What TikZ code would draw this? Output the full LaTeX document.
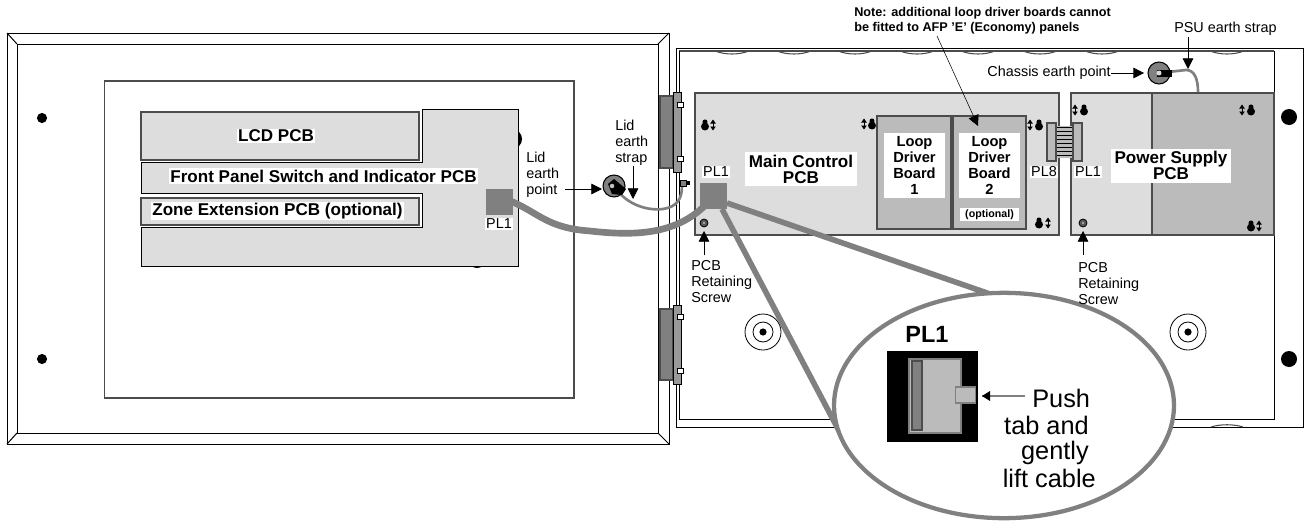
\documentclass[tikz,border=0pt]{standalone}
\usepackage{fontspec}
\setmainfont{Liberation Sans}
\usetikzlibrary{arrows.meta,shapes.geometric}
\definecolor{pcbgrey}{HTML}{DDDDDD}
\definecolor{boardgrey}{HTML}{BBBBBB}
\definecolor{cablegrey}{HTML}{808080}
\tikzset{
    frameline/.style={line width=0.75pt,black},
    pcbline/.style={line width=0.8pt,black!70},
    plain/.style={inner sep=0pt,align=left,font=\fontsize{10.8}{12}\selectfont},
    pcbtext/.style={inner sep=1pt,fill=white,align=center,font=\fontsize{12.8}{12}\selectfont\bfseries},
    plugtext/.style={inner sep=1pt,fill=white,font=\fontsize{10.8}{12}\selectfont},
    plug/.style={fill=cablegrey,inner sep=0pt,minimum width=20.25pt,minimum height=19.5pt},
    callout/.style={line width=0.6pt,-{Triangle[length=8pt,width=8pt]}},
    cable/.style={cablegrey,line width=5pt},
    strap/.style={cablegrey,line width=2pt},
    earthpoint/.style={circle,draw=black,line width=0.8pt,fill=cablegrey,minimum size=16.5pt,inner sep=0pt},
    lens/.style={ellipse,draw=cablegrey,line width=3.2pt,fill=white,minimum width=255pt,minimum height=169pt}
}
\begin{document}
\begin{tikzpicture}[x=0.75pt,y=-0.75pt]
    \useasboundingbox (0,0) rectangle (1305,521);

    % Lid
    \draw[frameline] (7,33) rectangle (669,444);
    \draw[frameline] (17,44) rectangle (658,433);
    \draw[frameline] (7,33) -- (17,44) (669,33) -- (658,44) (7,444) -- (17,433) (669,444) -- (658,433);
    \draw[pcbline] (104.5,81) rectangle (574,398);
    \foreach \hy in {118,359} {
        \fill (42,\hy) circle (3.8pt);
    }
    \fill (512,139) circle (7.5pt);
    \fill (477,258) circle (7.5pt);

    % Lid boards
    \draw[frameline,fill=pcbgrey] (422,109) -- (518,109) -- (518,266) -- (141,266) -- (141,227) -- (422,227)
        -- (422,193) -- (141,193) -- (141,162) -- (422,162) -- cycle;
    \draw[pcbline,fill=pcbgrey] (141,112) rectangle (419,160);
    \draw[pcbline,fill=pcbgrey] (141,198) rectangle (419,225);
    \node[pcbtext] (lcdtext) at (276,136) {LCD PCB};
    \node[pcbtext] (fronttext) at (323.5,176) {Front Panel Switch and Indicator PCB};
    \node[pcbtext] (zonetext) at (277.5,211) {Zone Extension PCB (optional)};
    \node[plug] (plleft) at (499,202) {};
    \node[plugtext] (plleftlabel) at (499,224) {PL1};

    % Chassis
    \draw[frameline] (676.5,48) -- (1303,48) -- (1303,427) -- (676.5,427) -- cycle;
    \draw[pcbline] (679,51) -- (1274,51);
    \draw[frameline] (679,51) -- (679,419) -- (1274,419) -- (1274,51);
    \foreach \sx in {715,777,838,900,961,1023,1085,1210} {
        \draw[pcbline] (\sx,51) .. controls (\sx+10,55) and (\sx+24,55) .. (\sx+34,51);
    }
    \draw[pcbline] (1211,427) .. controls (1220,424) and (1234,424) .. (1243,427);
    \foreach \hx in {763,1188} {
        \draw[line width=0.6pt] (\hx,332) circle (13.5pt);
        \draw[line width=0.6pt] (\hx,332) circle (7.5pt);
        \fill (\hx,332) circle (2.7pt);
    }
    \foreach \hy in {117,359} {
        \fill (1289,\hy) circle (6pt);
    }

    % Hinges
    \foreach \ty/\by/\ta/\tb in {96/168/105/159,309/380/317/371} {
        \draw[pcbline,fill=cablegrey] (660,\ty) rectangle (673,\by);
        \draw[frameline,fill=cablegrey!80] (673,\ty-4) rectangle (681.5,\by+4);
        \draw[line width=0.5pt,fill=white] (677,\ta-2.5) rectangle (683,\ta+2.5);
        \draw[line width=0.5pt,fill=white] (677,\tb-2.5) rectangle (683,\tb+2.5);
    }

    % Main control and power boards
    \draw[pcbline,fill=pcbgrey] (695,93) rectangle (1059,235);
    \draw[pcbline,fill=boardgrey] (877,116) rectangle (951,229);
    \draw[pcbline,fill=boardgrey] (953,116) rectangle (1026,229);
    \draw[pcbline,fill=pcbgrey] (1071,93) rectangle (1274,235);
    \draw[pcbline,fill=boardgrey] (1152,93) rectangle (1274,235);

    % Keyholes
    \foreach \kx/\ky/\ax in {705/125/713,872/124/864,1039/125/1030,1039/223/1048,1084/110/1075,1251/110/1242,1251/226/1259} {
        \fill (\kx,\ky+1.5) circle (3pt);
        \fill (\kx,\ky-3) circle (1.9pt);
        \draw[line width=0.6pt,{Triangle[length=3pt,width=4pt]}-{Triangle[length=3pt,width=4pt]}] (\ax,\ky-5.5) -- (\ax,\ky+5.5);
    }
    \foreach \sx in {704,1083} {
        \draw[line width=0.6pt,fill=black!65] (\sx,223) circle (3pt);
        \fill[black!25] (\sx,223) circle (0.9pt);
    }

    \node[pcbtext,minimum width=84pt,minimum height=25.5pt] (maintext) at (801,169) {Main Control\\PCB};
    \node[pcbtext,minimum width=46pt,minimum height=49pt,font=\fontsize{11}{12}\selectfont\bfseries] (loopone) at (914.5,165.5) {Loop\\Driver\\Board\\1};
    \node[pcbtext,minimum width=46pt,minimum height=49pt,font=\fontsize{11}{12}\selectfont\bfseries] (looptwo) at (989.5,165.5) {Loop\\Driver\\Board\\2};
    \node[pcbtext,minimum width=44pt,minimum height=9.5pt,font=\fontsize{8}{9}\selectfont\bfseries] (optional) at (989.5,214.5) {(optional)};
    \node[pcbtext,minimum width=90pt,minimum height=25.5pt] (powertext) at (1171,165.5) {Power Supply\\PCB};

    % Ribbon between PL8 and PL1
    \fill[boardgrey] (1056,126) rectangle (1073,158);
    \foreach \ry in {127,131,...,155} {
        \draw[line width=0.75pt] (1056,\ry) -- (1073,\ry);
    }
    \draw[pcbline,fill=boardgrey] (1047,123) rectangle (1056,161);
    \draw[pcbline,fill=boardgrey] (1073,123) rectangle (1082,161);
    \node[plugtext] (pleight) at (1044,172) {PL8};
    \node[plugtext] (plpower) at (1088,172) {PL1};

    % Earth points and straps
    \node[earthpoint] (lidearth) at (614,186) {};
    \node[earthpoint] (chassisearth) at (1159,73) {};
    \coordinate (studend) at (682,186);
    \coordinate (psuend) at (1198,92);
    \draw[strap] (lidearth.center) .. controls (626,205) and (648,211) .. (663,209) .. controls (676,207) and (682,200) .. (studend);
    \draw[strap] (chassisearth.center) -- (1186,70) .. controls (1194,70) and (1198,78) .. (psuend);
    \fill (608,184) -- (614,179) -- (626,189) -- (622,195) -- (612,194) -- cycle;
    \fill[black!25] (612,186) circle (1.7pt);
    \fill (1157,69.5) rectangle (1172,76.5);
    \fill[black!15] (1159,73) circle (1.9pt);
    \draw[line width=0.5pt,fill=cablegrey] (680,180) rectangle (686,186);
    \fill (686,181) rectangle (690,185);

    % Cable and zoom beams
    \node[plug] (plmain) at (713.5,196) {};
    \coordinate (beamtop) at (727,203);
    \coordinate (beamtopend) at (990,294);
    \coordinate (beamleft) at (722,209);
    \coordinate (beamleftend) at (847,446);
    \draw[cable] (plleft.center) -- (plleft.east) .. controls (540,214) and (548,228) .. (590,231) .. controls (635,236) and (682,236) .. (plmain.center);
    \draw[cable,line width=4.2pt] (beamtop) -- (beamtopend);
    \draw[cable,line width=4.2pt] (beamleft) -- (beamleftend);
    \node[plugtext] (plmainlabel) at (716,172) {PL1};

    % Lens
    \node[lens] (zoomlens) at (1004,405.5) {};
    \draw[fill=black] (887,351) rectangle (977,441);
    \draw[line width=0.8pt,draw=cablegrey,fill=boardgrey] (909,359) rectangle (961,433);
    \draw[line width=0.8pt,draw=black!70,fill=cablegrey] (912,361) rectangle (922,430);
    \node[draw=cablegrey,line width=0.8pt,fill=boardgrey,inner sep=0pt,minimum width=15pt,minimum height=12pt] (pushtab) at (965.5,395) {};
    \node[inner sep=0pt,font=\fontsize{17.6}{20}\selectfont\bfseries] (plzoom) at (927,334) {PL1};
    \node[inner sep=0pt,anchor=west,font=\fontsize{19}{20}\selectfont] (pushtext) at (1032,398) {Push};
    \node[inner sep=0pt,anchor=east,font=\fontsize{19}{20}\selectfont] (tabtext) at (1089,425) {tab and};
    \node[inner sep=0pt,anchor=east,font=\fontsize{19}{20}\selectfont] (gentlytext) at (1089,453) {gently};
    \node[inner sep=0pt,anchor=east,font=\fontsize{19}{20}\selectfont] (lifttext) at (1096,478) {lift cable};
    \coordinate (pushfrom) at (1025,396);
    \coordinate (pushto) at (982,396);
    \draw[cablegrey,line width=0.9pt] (pushfrom) -- (pushto);
    \fill (pushto) -- (990,391) -- (990,401) -- cycle;

    % Labels and their arrows
    \node[plain,anchor=west] (lidpoint) at (526,175) {Lid\\earth\\point};
    \node[plain,anchor=west] (lidstrap) at (615,143) {Lid\\earth\\strap};
    \node[plain,anchor=west] (screwleft) at (691,282) {PCB\\Retaining\\Screw};
    \node[plain,anchor=west] (screwright) at (1078,284) {PCB\\Retaining\\Screw};
    \node[plain,anchor=east] (chassislabel) at (1111,73) {Chassis earth point};
    \node[plain,anchor=west] (psulabel) at (1174,29) {PSU earth strap};
    \node[plain,anchor=west,font=\fontsize{9.5}{11.4}\selectfont\bfseries] (notelabel) at (854,20.5) {Note: additional loop driver boards cannot\\be fitted to AFP 'E' (Economy) panels};

    \coordinate (lidpointfrom) at (565,189);
    \coordinate (lidpointto) at (602,189);
    \coordinate (lidstrapfrom) at (633,166);
    \coordinate (lidstrapto) at (633,199);
    \coordinate (psufrom) at (1188,37);
    \coordinate (psuto) at (1188,69);
    \coordinate (notefrom) at (937,36);
    \coordinate (noteto) at (978,126);
    \coordinate (screwleftfrom) at (704,255);
    \coordinate (screwleftto) at (704,231);
    \coordinate (screwrightfrom) at (1083,255);
    \coordinate (screwrightto) at (1083,231);
    \coordinate (chassisto) at (1144,73);
    \draw[callout] (lidpointfrom) -- (lidpointto);
    \draw[callout] (lidstrapfrom) -- (lidstrapto);
    \draw[callout] (psufrom) -- (psuto);
    \draw[callout,line width=0.4pt] (notefrom) -- (noteto);
    \draw[callout] (screwleftfrom) -- (screwleftto);
    \draw[callout] (screwrightfrom) -- (screwrightto);
    \draw[callout] (chassislabel.east) -- (chassisto);
\end{tikzpicture}
\end{document}
